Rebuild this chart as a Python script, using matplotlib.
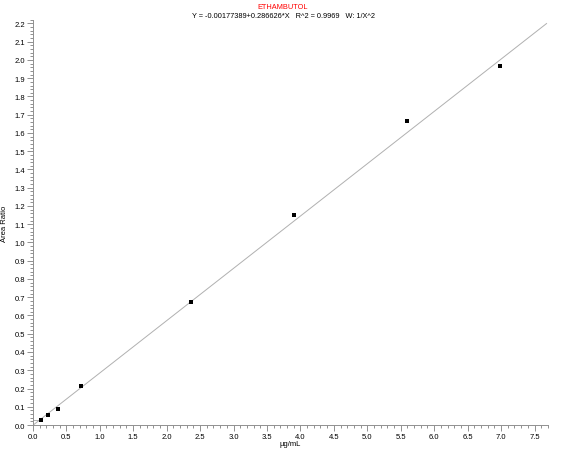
import numpy as np
import matplotlib.pyplot as plt

plt.rcParams["font.family"] = ["Liberation Sans", "DejaVu Sans"]

# calibration points (conc, area ratio)
conc = [0.126, 0.23, 0.37, 0.72, 2.36, 3.91, 5.59, 6.98]
ratio = [0.029, 0.055, 0.089, 0.212, 0.672, 1.149, 1.664, 1.965]

fit_intercept = -0.00177389
fit_slope = 0.286626
fit_xmax = 7.68

fig = plt.figure(figsize=(5.66, 4.52), dpi=100)
ax = fig.add_axes([0.058, 0.0575, 0.91, 0.8965])

xs = np.array([0, fit_xmax])
ax.plot(xs, fit_intercept + fit_slope * xs, color="#b0b0b0", lw=0.7, zorder=1)
ax.plot([0, conc[0]], [ratio[0], ratio[0]], color="#b0b0b0", lw=0.7, zorder=1)
ax.plot(conc, ratio, ls="none", marker="s", ms=2.3, mew=0, color="black", zorder=2)

ax.set_xlim(0, 7.7)
ax.set_ylim(0, 2.22)
ax.set_xticks(np.arange(0, 7.51, 0.5))
ax.set_xticks(np.arange(0, 7.71, 0.1), minor=True)
ax.set_yticks(np.arange(0, 2.21, 0.1))
ax.set_yticks(np.arange(0, 2.221, 0.02), minor=True)
ax.xaxis.set_major_formatter(plt.FormatStrFormatter("%.1f"))
ax.yaxis.set_major_formatter(plt.FormatStrFormatter("%.1f"))

for s in ["top", "right"]:
    ax.spines[s].set_visible(False)
for s in ["left", "bottom"]:
    ax.spines[s].set_color("#909090")
    ax.spines[s].set_linewidth(0.7)
ax.tick_params(which="both", direction="out", color="#909090", width=0.7,
               labelsize=5.5, pad=1.5)
ax.tick_params(which="major", length=4)
ax.tick_params(which="minor", length=2.5)

ax.set_xlabel("µg/mL", fontsize=5.5)
ax.set_ylabel("Area Ratio", fontsize=5.5)
ax.xaxis.set_label_coords(0.5, -0.037)
ax.yaxis.set_label_coords(-0.049, 0.5)

fig.text(0.5, 0.984, "ETHAMBUTOL", color="red", fontsize=5.3, ha="center", va="center")
fig.text(0.5, 0.963, "Y = -0.00177389+0.286626*X   R^2 = 0.9969   W: 1/X^2",
         fontsize=5.3, ha="center", va="center")

fig.savefig("out.png", dpi=100)
